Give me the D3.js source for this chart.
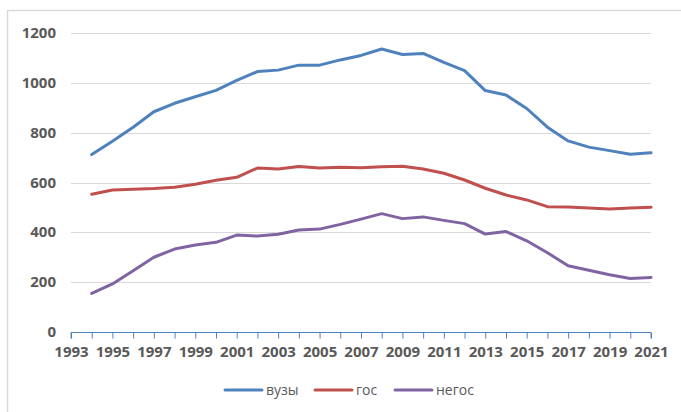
<!DOCTYPE html>
<html>
<head>
<meta charset="utf-8">
<script src="https://cdn.jsdelivr.net/npm/d3@7"></script>
<style>
  body { margin: 0; background: #fff; }
  svg { display: block; }
</style>
</head>
<body>
<div class="viewbox"></div>
<script>
  // years on the category axis (1993 has no data)
  const years = d3.range(1993, 2022)
  const dataYears = d3.range(1994, 2022)

  const vuzy = [712, 766, 822, 884, 918, 944, 970, 1010, 1045, 1051, 1071, 1071, 1092,
    1110, 1136, 1114, 1118, 1082, 1049, 969, 951, 897, 822, 767, 742, 728, 713, 719]
  const gos = [553, 570, 573, 576, 581, 593, 609, 621, 658, 654, 664, 658, 661,
    659, 663, 665, 654, 637, 610, 577, 550, 530, 503, 502, 498, 494, 498, 501]
  const negos = [155, 193, 246, 300, 333, 349, 360, 389, 385, 392, 409, 413, 432,
    453, 475, 455, 462, 448, 435, 393, 403, 366, 318, 266, 248, 230, 215, 219]

  const yTicks = [0, 200, 400, 600, 800, 1000, 1200]
  const xLabels = years.filter(y => (y - 1993) % 2 === 0)

  const seriesNames = ["вузы", "гос", "негос"]
  const COLORS = ["#4f81bd", "#c0504d", "#8064a2"]

  const svg_width = 681
  const svg_height = 412

  let svg = d3.select(".viewbox")
    .append("svg")
    .attr("width", svg_width)
    .attr("height", svg_height)

  // chart area border (runs off the picture right and bottom)
  svg.append("rect")
    .attr("x", 7.5).attr("y", 10.5)
    .attr("width", 700).attr("height", 420)
    .attr("fill", "none")
    .attr("stroke", "#d9d9d9")
    .attr("stroke-width", 1.5)

  let x = d3.scalePoint().domain(years).range([71, 651])
  let y = d3.scaleLinear().domain([0, 1200]).range([332, 33])

  // gridlines
  svg.append("g")
    .selectAll("line")
    .data(yTicks.filter(t => t > 0))
    .enter()
    .append("line")
    .attr("x1", 71).attr("x2", 651)
    .attr("y1", d => Math.round(y(d)) + 0.5)
    .attr("y2", d => Math.round(y(d)) + 0.5)
    .attr("stroke", "#d9d9d9")
    .attr("stroke-width", 1)

  // y labels
  svg.append("g")
    .selectAll("text")
    .data(yTicks)
    .enter()
    .append("text")
    .attr("x", 56)
    .attr("y", d => y(d) + 5)
    .attr("text-anchor", "end")
    .style("font-family", "'Open Sans', sans-serif")
    .style("font-size", "15px")
    .style("font-weight", "bold")
    .style("fill", "#595959")
    .text(d => d)

  // x axis
  let xAxis = d3.axisBottom(x)
    .tickSize(6)
    .tickFormat(d => (xLabels.includes(d) ? d : ""))
  let gx = svg.append("g")
    .attr("transform", "translate(0," + (Math.round(y(0)) + 0.5) + ")")
    .call(xAxis)
  gx.select(".domain").attr("stroke", "#4f81bd").attr("d", "M71,6V0H651V6")
  gx.selectAll(".tick line").attr("stroke", "#4f81bd")
  gx.selectAll(".tick text")
    .attr("dy", "1.0em")
    .style("font-family", "'Open Sans', sans-serif")
    .style("font-size", "15px")
    .style("font-weight", "bold")
    .style("fill", "#595959")

  let line = d3.line()
    .x((d, i) => x(dataYears[i]))
    .y(d => y(d))

  const allSeries = [vuzy, gos, negos]
  svg.append("g")
    .selectAll("path")
    .data(allSeries)
    .enter()
    .append("path")
    .attr("d", d => line(d))
    .attr("fill", "none")
    .attr("stroke", (d, i) => COLORS[i])
    .attr("stroke-width", 3)
    .attr("stroke-linejoin", "round")
    .attr("stroke-linecap", "round")

  // legend
  const legendX = [225, 315, 395]
  let legend = svg.append("g")
    .selectAll("g")
    .data(seriesNames)
    .enter()
    .append("g")
    .attr("transform", (d, i) => "translate(" + legendX[i] + ",390)")
  legend.append("line")
    .attr("x1", 0).attr("x2", 37)
    .attr("stroke", (d, i) => COLORS[i])
    .attr("stroke-width", 3)
    .attr("stroke-linecap", "round")
  legend.append("text")
    .attr("x", 41)
    .attr("y", 5)
    .style("font-family", "'Open Sans', sans-serif")
    .style("font-size", "14px")
    .style("fill", "#595959")
    .text(d => d)
</script>
</body>
</html>
